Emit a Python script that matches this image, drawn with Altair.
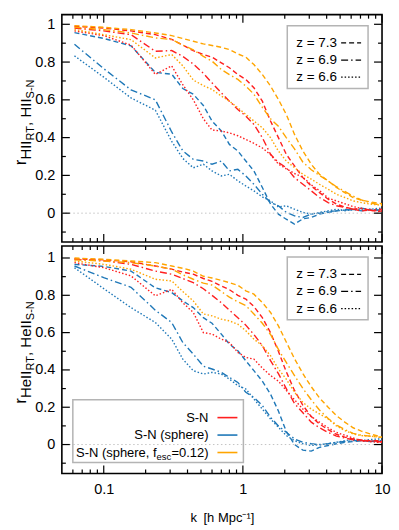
import altair as alt
import pandas as pd

# ---------------- data ----------------
k = [0.0616, 0.1, 0.157, 0.235, 0.308, 0.37, 0.44, 0.52, 0.6, 0.7, 0.8, 0.92, 1.05, 1.2, 1.38,
     1.58, 1.8, 2.05, 2.35, 2.7, 3.1, 3.55, 4.1, 4.7, 5.4, 6.2, 7.1, 8.2, 9.4, 10.0]

redshifts = ["7.3", "6.9", "6.6"]
z_labels = ["z = 7.3", "z = 6.9", "z = 6.6"]
models = ["S-N", "S-N (sphere)", "S-N (sphere, fesc=0.12)"]
colors = ["#ff1f1f", "#1f78b8", "#ffa500"]

# HII panel
hii_sn_73 = [0.99, 0.98, 0.965, 0.945, 0.92, 0.89, 0.86, 0.84, 0.826, 0.796, 0.77, 0.734, 0.708, 0.664, 0.593,
             0.488, 0.40, 0.312, 0.25, 0.188, 0.144, 0.109, 0.074, 0.048, 0.033, 0.021, 0.012, 0.016, 0.009, 0.012]
hii_sn_69 = [0.98, 0.965, 0.945, 0.857, 0.861, 0.83, 0.79, 0.74, 0.69, 0.637, 0.593, 0.549, 0.514, 0.47, 0.40,
             0.312, 0.268, 0.241, 0.188, 0.153, 0.118, 0.083, 0.056, 0.039, 0.03, 0.021, 0.026, 0.016, 0.021, 0.02]
hii_sn_66 = [0.965, 0.94, 0.89, 0.735, 0.78, 0.68, 0.60, 0.50, 0.44, 0.435, 0.425, 0.41, 0.39, 0.37, 0.345,
             0.31, 0.26, 0.235, 0.21, 0.19, 0.15, 0.12, 0.08, 0.065, 0.05, 0.035, 0.025, 0.015, 0.012, 0.012]
hii_sph_73 = [0.956, 0.925, 0.886, 0.745, 0.736, 0.66, 0.63, 0.57, 0.488, 0.435, 0.364, 0.329, 0.276, 0.224, 0.136,
              0.048, -0.005, -0.032, -0.058, -0.03, -0.023, -0.005, 0.004, 0.012, 0.016, 0.02, 0.012, 0.02, 0.016, 0.015]
hii_sph_69 = [0.894, 0.765, 0.653, 0.60, 0.43, 0.33, 0.285, 0.276, 0.259, 0.276, 0.224, 0.232, 0.197, 0.153, 0.10,
              0.056, 0.039, 0.004, -0.014, -0.023, -0.005, 0.0, 0.009, 0.012, 0.02, 0.016, 0.026, 0.02, 0.016, 0.02]
hii_sph_66 = [0.833, 0.72, 0.61, 0.545, 0.38, 0.29, 0.24, 0.259, 0.224, 0.197, 0.206, 0.171, 0.144, 0.118, 0.086,
              0.065, 0.033, 0.039, 0.021, 0.004, -0.005, 0.004, 0.012, 0.021, 0.012, 0.021, 0.016, 0.02, 0.026, 0.025]
hii_fesc_73 = [0.993, 0.984, 0.972, 0.954, 0.94, 0.925, 0.91, 0.896, 0.888, 0.878, 0.866, 0.843, 0.826, 0.787, 0.734,
               0.673, 0.602, 0.523, 0.417, 0.329, 0.259, 0.206, 0.171, 0.136, 0.109, 0.083, 0.069, 0.06, 0.053, 0.05]
hii_fesc_69 = [0.984, 0.972, 0.954, 0.928, 0.919, 0.89, 0.865, 0.83, 0.805, 0.76, 0.734, 0.708, 0.673, 0.63, 0.56,
               0.50, 0.46, 0.40, 0.34, 0.27, 0.23, 0.20, 0.17, 0.14, 0.115, 0.09, 0.07, 0.055, 0.045, 0.045]
hii_fesc_66 = [0.972, 0.945, 0.919, 0.822, 0.84, 0.78, 0.705, 0.675, 0.655, 0.62, 0.593, 0.558, 0.523, 0.488, 0.452,
               0.40, 0.329, 0.276, 0.241, 0.206, 0.18, 0.153, 0.127, 0.10, 0.083, 0.065, 0.056, 0.048, 0.044, 0.04]

# HeII panel
heii_sn_73 = [0.996, 0.99, 0.98, 0.957, 0.94, 0.925, 0.913, 0.89, 0.875, 0.85, 0.83, 0.80, 0.78, 0.74, 0.68,
              0.60, 0.50, 0.39, 0.29, 0.21, 0.15, 0.11, 0.08, 0.055, 0.04, 0.03, 0.025, 0.02, 0.02, 0.02]
heii_sn_69 = [0.993, 0.985, 0.966, 0.93, 0.913, 0.89, 0.868, 0.835, 0.80, 0.76, 0.72, 0.68, 0.64, 0.59, 0.53,
              0.45, 0.38, 0.30, 0.22, 0.17, 0.12, 0.09, 0.065, 0.045, 0.035, 0.025, 0.02, 0.02, 0.015, 0.015]
heii_sn_66 = [0.975, 0.948, 0.904, 0.797, 0.832, 0.76, 0.708, 0.60, 0.592, 0.565, 0.547, 0.494, 0.467, 0.458, 0.41,
              0.37, 0.34, 0.29, 0.24, 0.19, 0.15, 0.12, 0.09, 0.065, 0.05, 0.035, 0.02, 0.016, 0.012, 0.012]
heii_sph_73 = [0.966, 0.955, 0.93, 0.84, 0.815, 0.77, 0.734, 0.68, 0.65, 0.592, 0.538, 0.503, 0.449, 0.396, 0.34,
               0.27, 0.18, 0.07, 0.0, -0.03, -0.035, -0.015, -0.005, 0.004, 0.012, 0.016, 0.021, 0.016, 0.02, 0.02]
heii_sph_69 = [0.957, 0.895, 0.843, 0.72, 0.654, 0.547, 0.485, 0.42, 0.405, 0.387, 0.36, 0.333, 0.28, 0.253, 0.209,
               0.146, 0.10, 0.066, 0.03, 0.012, 0.004, -0.002, 0.004, 0.012, 0.016, 0.021, 0.021, 0.016, 0.02, 0.02]
heii_sph_66 = [0.948, 0.836, 0.734, 0.654, 0.565, 0.458, 0.396, 0.378, 0.387, 0.378, 0.351, 0.316, 0.298, 0.244, 0.19,
               0.137, 0.093, 0.048, 0.021, 0.004, -0.005, 0.0, 0.004, 0.012, 0.021, 0.027, 0.021, 0.027, 0.03, 0.03]
heii_fesc_73 = [1.0, 0.993, 0.984, 0.975, 0.957, 0.945, 0.93, 0.902, 0.893, 0.88, 0.868, 0.854, 0.824, 0.806, 0.761,
                0.708, 0.636, 0.55, 0.46, 0.38, 0.31, 0.25, 0.2, 0.155, 0.12, 0.09, 0.072, 0.057, 0.045, 0.039]
heii_fesc_69 = [0.99, 0.984, 0.975, 0.957, 0.94, 0.91, 0.886, 0.865, 0.855, 0.82, 0.79, 0.765, 0.745, 0.70, 0.65,
                0.59, 0.51, 0.44, 0.37, 0.30, 0.24, 0.185, 0.14, 0.105, 0.08, 0.06, 0.05, 0.045, 0.04, 0.04]
heii_fesc_66 = [0.984, 0.966, 0.94, 0.886, 0.877, 0.82, 0.77, 0.70, 0.69, 0.672, 0.663, 0.645, 0.61, 0.565, 0.53,
                0.476, 0.405, 0.351, 0.28, 0.226, 0.19, 0.164, 0.137, 0.10, 0.075, 0.057, 0.048, 0.045, 0.04, 0.04]

# axis tick values
x_major = [0.1, 1, 10]
x_minor = [0.06, 0.07, 0.08, 0.09, 0.2, 0.3, 0.4, 0.5, 0.6, 0.7, 0.8, 0.9, 2, 3, 4, 5, 6, 7, 8, 9]
y_major = [0, 0.2, 0.4, 0.6, 0.8, 1.0]
y_minor = [-0.1, 0.1, 0.3, 0.5, 0.7, 0.9]

hii_series = {
    ("S-N", "7.3"): hii_sn_73, ("S-N", "6.9"): hii_sn_69, ("S-N", "6.6"): hii_sn_66,
    ("S-N (sphere)", "7.3"): hii_sph_73, ("S-N (sphere)", "6.9"): hii_sph_69, ("S-N (sphere)", "6.6"): hii_sph_66,
    ("S-N (sphere, fesc=0.12)", "7.3"): hii_fesc_73, ("S-N (sphere, fesc=0.12)", "6.9"): hii_fesc_69,
    ("S-N (sphere, fesc=0.12)", "6.6"): hii_fesc_66,
}
heii_series = {
    ("S-N", "7.3"): heii_sn_73, ("S-N", "6.9"): heii_sn_69, ("S-N", "6.6"): heii_sn_66,
    ("S-N (sphere)", "7.3"): heii_sph_73, ("S-N (sphere)", "6.9"): heii_sph_69, ("S-N (sphere)", "6.6"): heii_sph_66,
    ("S-N (sphere, fesc=0.12)", "7.3"): heii_fesc_73, ("S-N (sphere, fesc=0.12)", "6.9"): heii_fesc_69,
    ("S-N (sphere, fesc=0.12)", "6.6"): heii_fesc_66,
}

# ---------------- styling ----------------
FONT = "Liberation Sans"
W, H = 321, 228
dashes = [[5, 3], [7, 3, 1.5, 3], [1.5, 2]]
xs = alt.Scale(type="log", domain=[0.05, 10], nice=False)

ADV = {"r": .333, "H": .722, "e": .556, "I": .278, "R": .722, "T": .611, ",": .278, " ": .278,
       "S": .667, "-": .333, "N": .722, "=": .584, "0": .556, ".": .278, "1": .556, "2": .556, ")": .333,
       "s": .5, "c": .5}


def tw(s, size):
    return sum(ADV.get(ch, 0.55) for ch in s) * size


def one(t):
    return pd.DataFrame({"t": [t]})


def text(t, x, y, size, align="left", angle=0, baseline="middle"):
    return alt.Chart(one(t)).mark_text(
        align=align, baseline=baseline, angle=angle, font=FONT, fontSize=size, color="black"
    ).encode(text="t:N", x=alt.value(x), y=alt.value(y))


def hline(x1, x2, y, color, dash=None, width=1.4):
    kw = dict(color=color, strokeWidth=width)
    if dash is not None:
        kw["strokeDash"] = dash
    return alt.Chart(one("")).mark_rule(**kw).encode(x=alt.value(x1), x2=alt.value(x2), y=alt.value(y))


def ytitle(species, y0):
    # rotated r_{species_RT, species_S-N} built from pieces
    parts = [("r", 17, -36), (species, 15, -31), ("RT", 11, -27.5), (", " + species, 15, -31), ("S-N", 11, -27.5)]
    out = []
    y = y0
    for s, size, x in parts:
        out.append(text(s, x, y, size, align="left", angle=270, baseline="alphabetic"))
        y -= tw(s, size)
    return out


def panel(series, species, y0_title, ydom, bottom):
    ys = alt.Scale(domain=ydom, nice=False, zero=False)
    rows = []
    for (m, z), vals in series.items():
        for kk, v in zip(k, vals):
            rows.append({"k": kk, "r": v, "model": m, "z": z})
    df = pd.DataFrame(rows)

    if bottom:
        xaxis = alt.Axis(values=x_major, format="~g", ticks=False, tickSize=0, domain=False, grid=False,
                         labelFont=FONT, labelFontSize=14.5, labelColor="black", labelPadding=9,
                         labelFlush=False, title="k\u2002[h Mpc\u207b\u00b9]", titleFont=FONT,
                         titleFontSize=13, titleFontWeight="normal", titleColor="black", titlePadding=16)
    else:
        xaxis = None
    yaxis = alt.Axis(values=y_major, format="~g", ticks=False, tickSize=0, domain=False, grid=False,
                     labelFont=FONT, labelFontSize=14.5, labelColor="black", labelPadding=7,
                     labelFlush=False, title=None)

    layers = []
    for mi in [1, 0, 2]:
        m = models[mi]
        layers.append(
            alt.Chart(df[df["model"] == m]).mark_line(strokeWidth=1.4, clip=True).encode(
                x=alt.X("k:Q", scale=xs, axis=xaxis),
                y=alt.Y("r:Q", scale=ys, axis=yaxis),
                color=alt.Color("model:N", scale=alt.Scale(domain=models, range=colors), legend=None),
                strokeDash=alt.StrokeDash("z:N", scale=alt.Scale(domain=redshifts, range=dashes), legend=None),
            )
        )
    layers.append(
        alt.Chart(pd.DataFrame({"y": [0.0]})).mark_rule(color="#c4c4c4", strokeDash=[1.5, 2.5], strokeWidth=1)
        .encode(y=alt.Y("y:Q", scale=ys, axis=yaxis))
    )
    # inward ticks on all four sides
    for vals, ln in [(x_major, 8), (x_minor, 4)]:
        d = pd.DataFrame({"v": vals})
        layers.append(alt.Chart(d).mark_rule(color="black", strokeWidth=1.2).encode(
            x=alt.X("v:Q", scale=xs, axis=xaxis), y=alt.value(H), y2=alt.value(H - ln)))
        layers.append(alt.Chart(d).mark_rule(color="black", strokeWidth=1.2).encode(
            x=alt.X("v:Q", scale=xs, axis=xaxis), y=alt.value(0), y2=alt.value(ln)))
    for vals, ln in [(y_major, 8), (y_minor, 4)]:
        d = pd.DataFrame({"v": vals})
        layers.append(alt.Chart(d).mark_rule(color="black", strokeWidth=1.2).encode(
            y=alt.Y("v:Q", scale=ys, axis=yaxis), x=alt.value(0), x2=alt.value(ln)))
        layers.append(alt.Chart(d).mark_rule(color="black", strokeWidth=1.2).encode(
            y=alt.Y("v:Q", scale=ys, axis=yaxis), x=alt.value(W), x2=alt.value(W - ln)))

    # redshift legend (top right)
    bx = W - 95
    layers.append(alt.Chart(one("")).mark_rect(fillOpacity=0, stroke="#b4b4b4", strokeWidth=1.5).encode(
        x=alt.value(bx), x2=alt.value(bx + 81), y=alt.value(11), y2=alt.value(74)))
    for i, (lab, dsh) in enumerate(zip(z_labels, dashes)):
        yy = 28.3 + 17.2 * i
        layers.append(text(lab, bx + 9, yy, 13.5))
        layers.append(hline(bx + 54, bx + 74, yy, "black", dsh, 1.2))

    # model legend (bottom panel)
    if bottom:
        layers.append(alt.Chart(one("")).mark_rect(fillOpacity=0, stroke="#b4b4b4", strokeWidth=1.5).encode(
            x=alt.value(11), x2=alt.value(182), y=alt.value(154), y2=alt.value(217)))
        right = 147
        ys_ = [172, 189.5, 207]
        layers.append(text("S-N", right, ys_[0], 13, align="right"))
        layers.append(text("S-N (sphere)", right, ys_[1], 13, align="right"))
        p3 = "=0.12)"
        layers.append(text(p3, right, ys_[2], 13, align="right"))
        x_esc = right - tw(p3, 13)
        layers.append(text("esc", x_esc, ys_[2] + 8, 9.5, align="right", baseline="alphabetic"))
        layers.append(text("S-N (sphere, f", x_esc - tw("esc", 9.5), ys_[2], 13, align="right"))
        for yy, c in zip(ys_, colors):
            layers.append(hline(156, 176, yy, c, None, 1.6))

    layers += ytitle(species, y0_title)
    return alt.layer(*layers).properties(width=W, height=H)


top = panel(hii_series, "HII", 151, [-0.153, 1.051], False)
bot = panel(heii_series, "HeII", 158, [-0.155, 1.064], True)

chart = alt.vconcat(top, bot, spacing=0).properties(
    padding={"left": 3, "top": 4, "right": 0, "bottom": 0}
).configure_view(stroke="black", strokeWidth=1.6).configure_concat(spacing=0)

chart.save("out.html", embed_options={"renderer": "svg", "actions": False})
